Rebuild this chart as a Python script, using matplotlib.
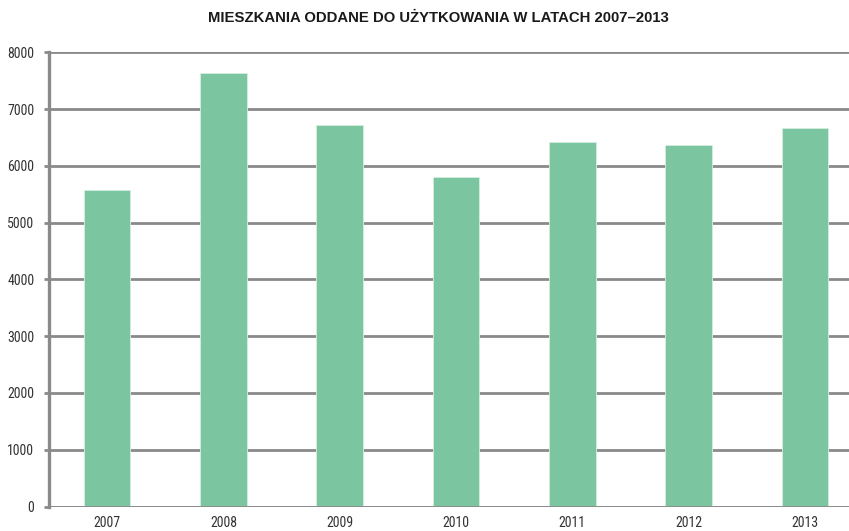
import matplotlib
matplotlib.use("Agg")
import matplotlib.pyplot as plt
from matplotlib import font_manager

years = ["2007", "2008", "2009", "2010", "2011", "2012", "2013"]
values = [5567, 7637, 6715, 5801, 6423, 6359, 6664]
yticks = [0, 1000, 2000, 3000, 4000, 5000, 6000, 7000, 8000]
title = "MIESZKANIA ODDANE DO UŻYTKOWANIA W LATACH 2007–2013"

names = {f.name for f in font_manager.fontManager.ttflist}
narrow = "DejaVu Sans"
for cand in ["Roboto Condensed", "Archivo Narrow", "PT Sans Narrow",
             "Barlow Semi Condensed", "Asap Condensed", "Liberation Sans Narrow"]:
    if cand in names:
        narrow = cand
        break

fig = plt.figure(figsize=(8.49, 5.31), dpi=100)
W, H = 849, 531
ax = fig.add_axes([49 / W, (H - 506.5) / H, 1 - 49 / W, (506.5 - 52.3) / H])

grid_c = "#8a8a8a"
ax.set_ylim(0, 8000)
ax.set_xlim(-0.5, 6.38)
ax.set_yticks(yticks)
for v in yticks:
    ax.axhline(v, color=grid_c, lw=2.0, zorder=1)

x = list(range(len(years)))
ax.bar(x, values, width=0.4, color="#7bc5a0", edgecolor="#d6efe0", linewidth=0.6, zorder=2)
ax.axhline(0, color=grid_c, lw=2.0, zorder=3)

for s in ["top", "right", "bottom"]:
    ax.spines[s].set_visible(False)
ax.spines["left"].set_color(grid_c)
ax.spines["left"].set_linewidth(2.4)
ax.spines["left"].set_zorder(4)

ax.tick_params(axis="y", length=3.6, width=2.0, color=grid_c, pad=7,
               labelsize=10, labelcolor="#333333")
ax.tick_params(axis="x", length=0, pad=7, labelsize=10, labelcolor="#333333")
ax.set_xticks(x)
ax.set_xticklabels(years)
for lab in ax.get_xticklabels() + ax.get_yticklabels():
    lab.set_fontfamily(narrow)

fig.text(438 / W, 1 - 18 / H, title, ha="center", va="center",
         fontsize=10.7, fontweight="bold", family="Liberation Sans", color="#1a1a1a")

fig.savefig("out.png", dpi=100)
